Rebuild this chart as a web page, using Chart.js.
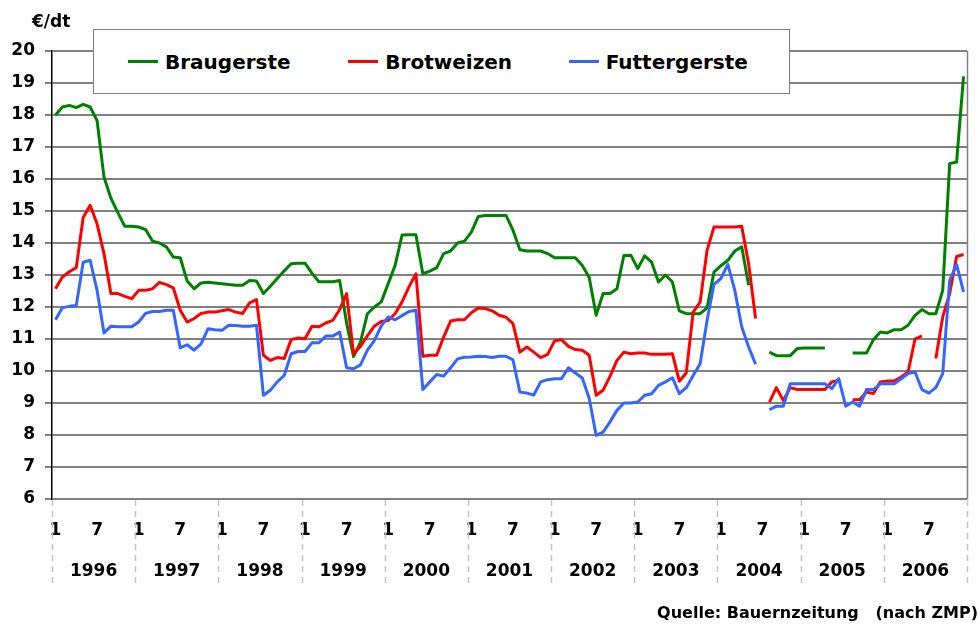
<!DOCTYPE html>
<html lang="de">
<head>
<meta charset="utf-8">
<title>Getreidepreise 1996-2006</title>
<script src="https://cdn.jsdelivr.net/npm/chart.js@4.4.1/dist/chart.umd.min.js"></script>
<style>
  body { margin: 0; background: #fff; }
  #wrap { position: relative; width: 979px; height: 627px; font-family: "DejaVu Sans", sans-serif; font-weight: bold; color: #000; }
  #chart { position: absolute; left: 0; top: 0; }
  #unit { position: absolute; left: 32px; top: 11px; font-size: 17px; }
  #legend {
    position: absolute; left: 93px; top: 29px; width: 697px; height: 65px;
    box-sizing: border-box; border: 1.5px solid #808080; background: #fff;
    display: flex; align-items: center; padding-left: 34px; font-size: 20px;
  }
  #legend .item { display: flex; align-items: center; width: 228.5px; white-space: nowrap; }
  #legend .item i { display: inline-block; width: 30px; height: 3px; margin-right: 7px; }
  #source { position: absolute; right: 1px; top: 603px; font-size: 16px; white-space: pre; }
</style>
</head>
<body>
<div id="wrap">
  <canvas id="chart" width="979" height="627"></canvas>
  <div id="unit">€/dt</div>
  <div id="legend"></div>
  <div id="source">Quelle: Bauernzeitung   (nach ZMP)</div>
</div>
<script>
// years on the axis, months shown as 1 and 7
const years = ['1996', '1997', '1998', '1999', '2000', '2001', '2002', '2003', '2004', '2005', '2006'];
const months = [1, 2, 3, 4, 5, 6, 7, 8, 9, 10, 11, 12];
const shownMonths = [1, 7];

// prices in EUR per dt, one value per month, Jan 1996 - Dec 2006 (null = no quote)
const braugerste = [
  18.0, 18.25, 18.3, 18.23, 18.33, 18.25, 17.83, 16.06, 15.4, 14.95, 14.52, 14.52,
  14.5, 14.42, 14.06, 14.0, 13.88, 13.56, 13.54, 12.81, 12.57, 12.75, 12.77, 12.75,
  12.73, 12.7, 12.68, 12.68, 12.83, 12.81, 12.42, 12.65, 12.89, 13.13, 13.35, 13.37,
  13.37, 13.06, 12.79, 12.79, 12.79, 12.83, 11.5, 10.45, 10.9, 11.79, 12.0, 12.16,
  12.73, 13.3, 14.25, 14.26, 14.26, 13.04, 13.12, 13.23, 13.67, 13.75, 14.0, 14.06,
  14.34, 14.83, 14.86, 14.86, 14.86, 14.86, 14.4, 13.79, 13.75, 13.75, 13.75, 13.67,
  13.54, 13.54, 13.54, 13.54, 13.3, 12.92, 11.74, 12.42, 12.42, 12.57, 13.61, 13.62,
  13.2, 13.6, 13.4, 12.78, 13.0, 12.78, 11.88, 11.79, 11.79, 11.79, 11.97, 13.09,
  13.29, 13.46, 13.75, 13.88, 12.68, null, null, 10.59, 10.48, 10.48, 10.48, 10.7,
  10.72, 10.72, 10.72, 10.72, null, null, null, 10.56, 10.56, 10.56, 10.98, 11.22,
  11.19, 11.29, 11.29, 11.43, 11.74, 11.92, 11.79, 11.79, 12.52, 16.48, 16.53, 19.21
];
const brotweizen = [
  12.57, 12.94, 13.1, 13.23, 14.8, 15.18, 14.6, 13.67, 12.42, 12.42, 12.33, 12.26,
  12.52, 12.52, 12.57, 12.77, 12.7, 12.6, 11.9, 11.53, 11.64, 11.8, 11.84, 11.84,
  11.88, 11.92, 11.84, 11.8, 12.13, 12.23, 10.49, 10.33, 10.42, 10.39, 10.98, 11.03,
  11.01, 11.4, 11.38, 11.5, 11.58, 11.92, 12.42, 10.54, 10.77, 11.1, 11.4, 11.55,
  11.58, 11.79, 12.16, 12.63, 13.04, 10.46, 10.49, 10.49, 11.06, 11.56, 11.6, 11.6,
  11.82, 11.97, 11.95, 11.88, 11.74, 11.68, 11.48, 10.59, 10.75, 10.59, 10.42, 10.52,
  10.94, 10.98, 10.77, 10.67, 10.65, 10.49, 9.24, 9.4, 9.83, 10.33, 10.59, 10.54,
  10.56, 10.56, 10.52, 10.52, 10.52, 10.54, 9.68, 9.94, 11.84, 12.15, 13.77, 14.5,
  14.5, 14.5, 14.5, 14.52, 13.35, 11.64, null, 9.03, 9.48, 9.08, 9.48, 9.42,
  9.42, 9.42, 9.42, 9.42, 9.66, 9.71, null, 9.1, 9.1, 9.34, 9.3, 9.66,
  9.69, 9.69, 9.81, 9.97, 11.0, 11.1, null, 10.39, 11.69, 12.42, 13.58, 13.64
];
const futtergerste = [
  11.6, 11.98, 12.02, 12.05, 13.4, 13.46, 12.52, 11.19, 11.4, 11.38, 11.38, 11.38,
  11.53, 11.8, 11.86, 11.86, 11.9, 11.9, 10.72, 10.82, 10.65, 10.85, 11.32, 11.29,
  11.27, 11.43, 11.42, 11.4, 11.4, 11.43, 9.24, 9.4, 9.66, 9.86, 10.54, 10.61,
  10.61, 10.88, 10.88, 11.09, 11.09, 11.22, 10.1, 10.07, 10.19, 10.65, 10.95, 11.41,
  11.69, 11.6, 11.73, 11.86, 11.9, 9.42, 9.66, 9.89, 9.84, 10.1, 10.38, 10.43,
  10.44, 10.46, 10.45, 10.42, 10.46, 10.46, 10.35, 9.34, 9.31, 9.25, 9.66, 9.73,
  9.76, 9.76, 10.1, 9.94, 9.78, 9.14, 7.99, 8.09, 8.41, 8.77, 9.0, 9.0,
  9.03, 9.24, 9.29, 9.55, 9.66, 9.79, 9.29, 9.48, 9.86, 10.23, 11.58, 12.71,
  12.89, 13.33, 12.52, 11.38, 10.75, 10.21, null, 8.79, 8.9, 8.9, 9.6, 9.6,
  9.6, 9.6, 9.6, 9.6, 9.45, 9.76, 8.9, 9.03, 8.9, 9.42, 9.42, 9.6,
  9.6, 9.6, 9.76, 9.92, 9.97, 9.42, 9.31, 9.48, 9.92, 12.83, 13.33, 12.47
];

// one category per month
const labels = [];
years.forEach(y => months.forEach(m => labels.push(m)));

Chart.defaults.font.family = '"DejaVu Sans", sans-serif';
Chart.defaults.font.weight = 'bold';
Chart.defaults.color = '#000';

// dashed year separators below the axis, plus the plain frame on the right
const yearSeparators = {
  id: 'yearSeparators',
  afterDraw(chart) {
    const x2 = chart.scales.x2;
    const area = chart.chartArea;
    const ctx = chart.ctx;
    ctx.save();
    ctx.strokeStyle = '#c4c4c4';
    ctx.lineWidth = 1.5;
    ctx.setLineDash([6, 5]);
    for (let k = 0; k <= years.length; k++) {
      const x = Math.round(x2.getPixelForValue(k * 12 - 0.5)) + 0.5;
      ctx.beginPath();
      ctx.moveTo(x, area.bottom + 1);
      ctx.lineTo(x, 584);
      ctx.stroke();
    }
    ctx.setLineDash([]);
    ctx.strokeStyle = '#808080';
    ctx.beginPath();
    ctx.moveTo(Math.round(area.right) + 0.5, area.top);
    ctx.lineTo(Math.round(area.right) + 0.5, area.bottom);
    ctx.stroke();
    ctx.restore();
  }
};

const chart = new Chart(document.getElementById('chart'), {
  type: 'line',
  data: {
    labels: labels,
    datasets: [
      { label: 'Braugerste', data: braugerste, borderColor: '#008000', order: 3 },
      { label: 'Brotweizen', data: brotweizen, borderColor: '#ff0000', order: 2 },
      { label: 'Futtergerste', data: futtergerste, borderColor: '#3366ff', order: 1 }
    ]
  },
  options: {
    responsive: false,
    animation: false,
    devicePixelRatio: 1,
    layout: { padding: { top: 51, right: 12, left: 0, bottom: 0 } },
    elements: {
      line: { borderWidth: 3, tension: 0, borderJoinStyle: 'round', fill: false },
      point: { radius: 0, hoverRadius: 0 }
    },
    plugins: {
      legend: { display: false },
      tooltip: { enabled: false }
    },
    scales: {
      x: {
        type: 'category',
        offset: true,
        grid: { display: false, drawTicks: true, tickLength: 18 },
        border: { display: false },
        ticks: {
          autoSkip: false,
          maxRotation: 0,
          padding: 3,
          font: { size: 17, weight: 'bold' },
          callback: function (value) {
            const m = this.getLabelForValue(value);
            return shownMonths.includes(m) ? String(m) : '';
          }
        },
        afterFit: s => { s.height = 48; }
      },
      x2: {
        type: 'linear',
        position: 'bottom',
        min: -0.5,
        max: labels.length - 0.5,
        grid: { display: false, drawTicks: true, tickLength: 11 },
        border: { display: false },
        afterBuildTicks: s => { s.ticks = years.map((y, k) => ({ value: k * 12 + 5.5 })); },
        ticks: {
          autoSkip: false,
          maxRotation: 0,
          padding: 3,
          font: { size: 17, weight: 'bold' },
          callback: v => years[Math.round((v - 5.5) / 12)]
        },
        afterFit: s => { s.height = 80; }
      },
      y: {
        min: 6,
        max: 20,
        ticks: { stepSize: 1, padding: 10, font: { size: 17, weight: 'bold' } },
        grid: { color: '#808080', lineWidth: 2, borderDash: [9, 6], tickLength: 7, tickBorderDash: [] },
        border: { color: '#000', width: 1.5 },
        afterFit: s => { s.width = 52; }
      }
    }
  },
  plugins: [yearSeparators]
});

// legend box drawn from the datasets
const legend = document.getElementById('legend');
chart.data.datasets.forEach(ds => {
  const item = document.createElement('span');
  item.className = 'item';
  const swatch = document.createElement('i');
  swatch.style.background = ds.borderColor;
  item.appendChild(swatch);
  item.appendChild(document.createTextNode(ds.label));
  legend.appendChild(item);
});
</script>
</body>
</html>
